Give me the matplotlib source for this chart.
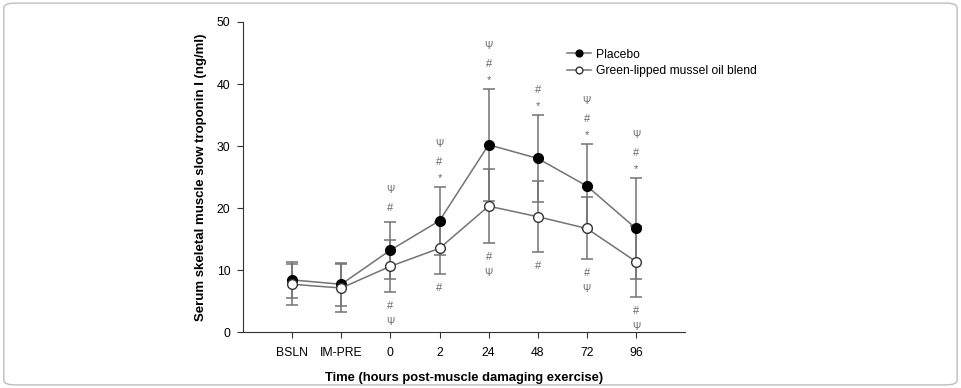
import numpy as np
import matplotlib
matplotlib.use('Agg')
import matplotlib.pyplot as plt
from matplotlib.patches import FancyBboxPatch

plt.rcParams['font.family'] = ['Liberation Sans', 'DejaVu Sans']

time_labels = ['BSLN', 'IM-PRE', '0', '2', '24', '48', '72', '96']
placebo_mean = [8.4, 7.7, 13.2, 17.95, 30.2, 28.0, 23.55, 16.7]
placebo_sd = [2.9, 3.5, 4.6, 5.5, 9.0, 7.0, 6.8, 8.1]
glm_mean = [7.7, 7.1, 10.6, 13.5, 20.3, 18.6, 16.7, 11.35]
glm_sd = [3.3, 3.85, 4.2, 4.2, 6.0, 5.75, 5.0, 5.75]

# significance symbols, listed outward from the error bar
marks_above = ['', '', '#Ψ', '*#Ψ', '*#Ψ', '*#', '*#Ψ', '*#Ψ']
marks_below = ['', '', '#Ψ', '#', '#Ψ', '#', '#Ψ', '#Ψ']

x = np.arange(len(time_labels))
grey = '#737373'

fig = plt.figure(figsize=(9.61, 3.88), dpi=100)
fig.patches.append(FancyBboxPatch((0.004, 0.008), 0.992, 0.984,
                                  boxstyle='round,pad=0,rounding_size=0.012',
                                  transform=fig.transFigure, fill=False,
                                  edgecolor='#bdbdbd', linewidth=1.0))
ax = fig.add_axes([0.2529, 0.1443, 0.46, 0.799])

ax.errorbar(x, placebo_mean, yerr=placebo_sd, fmt='none', ecolor=grey,
            elinewidth=1.1, capsize=4.5, capthick=1.1, zorder=2)
ax.errorbar(x, glm_mean, yerr=glm_sd, fmt='none', ecolor=grey,
            elinewidth=1.1, capsize=4.5, capthick=1.1, zorder=2)
ax.plot(x, placebo_mean, '-', color=grey, lw=1.1, marker='o', ms=7,
        mfc='black', mec='black', label='Placebo', zorder=3)
ax.plot(x, glm_mean, '-', color=grey, lw=1.1, marker='o', ms=7,
        mfc='white', mec='#333333', mew=1.0,
        label='Green-lipped mussel oil blend', zorder=3)

steps = {'*': (6.5, 1.5), '#': (10, 0), 'Ψ': (13, 0)}
sizes = {'*': 8, '#': 8, 'Ψ': 7}
for i in range(len(x)):
    top = placebo_mean[i] + placebo_sd[i]
    off = 0
    for s in marks_above[i]:
        off += steps[s][0]
        ax.annotate(s, (x[i], top), xytext=(0, off), textcoords='offset points',
                    ha='center', va='center', fontsize=sizes[s], color='#666666')
        off += steps[s][1]
    bot = glm_mean[i] - glm_sd[i]
    off = -10
    for s in marks_below[i]:
        ax.annotate(s, (x[i], bot), xytext=(0, off), textcoords='offset points',
                    ha='center', va='center', fontsize=sizes[s], color='#666666')
        off -= 11.5

ax.set_xlim(-1, 8)
ax.set_ylim(0, 50)
ax.set_yticks([0, 10, 20, 30, 40, 50])
ax.set_xticks(x)
ax.set_xticklabels(time_labels)
ax.tick_params(labelsize=8.8, length=4, color='#333333', pad=5)
ax.tick_params(axis='x', pad=7)
for side in ['top', 'right']:
    ax.spines[side].set_visible(False)
for side in ['left', 'bottom']:
    ax.spines[side].set_color('#333333')
ax.set_xlabel('Time (hours post-muscle damaging exercise)', fontsize=9.4,
              fontweight='bold', labelpad=9)
ax.set_ylabel('Serum skeletal muscle slow troponin I (ng/ml)', fontsize=9.5,
              fontweight='bold', labelpad=7)

ax.legend(loc='upper left', bbox_to_anchor=(0.722, 0.93), frameon=False,
          fontsize=8.7, handlelength=2.0, handletextpad=0.4, labelspacing=0.35,
          markerscale=0.7, borderaxespad=0)

fig.savefig('out.png', dpi=100)
